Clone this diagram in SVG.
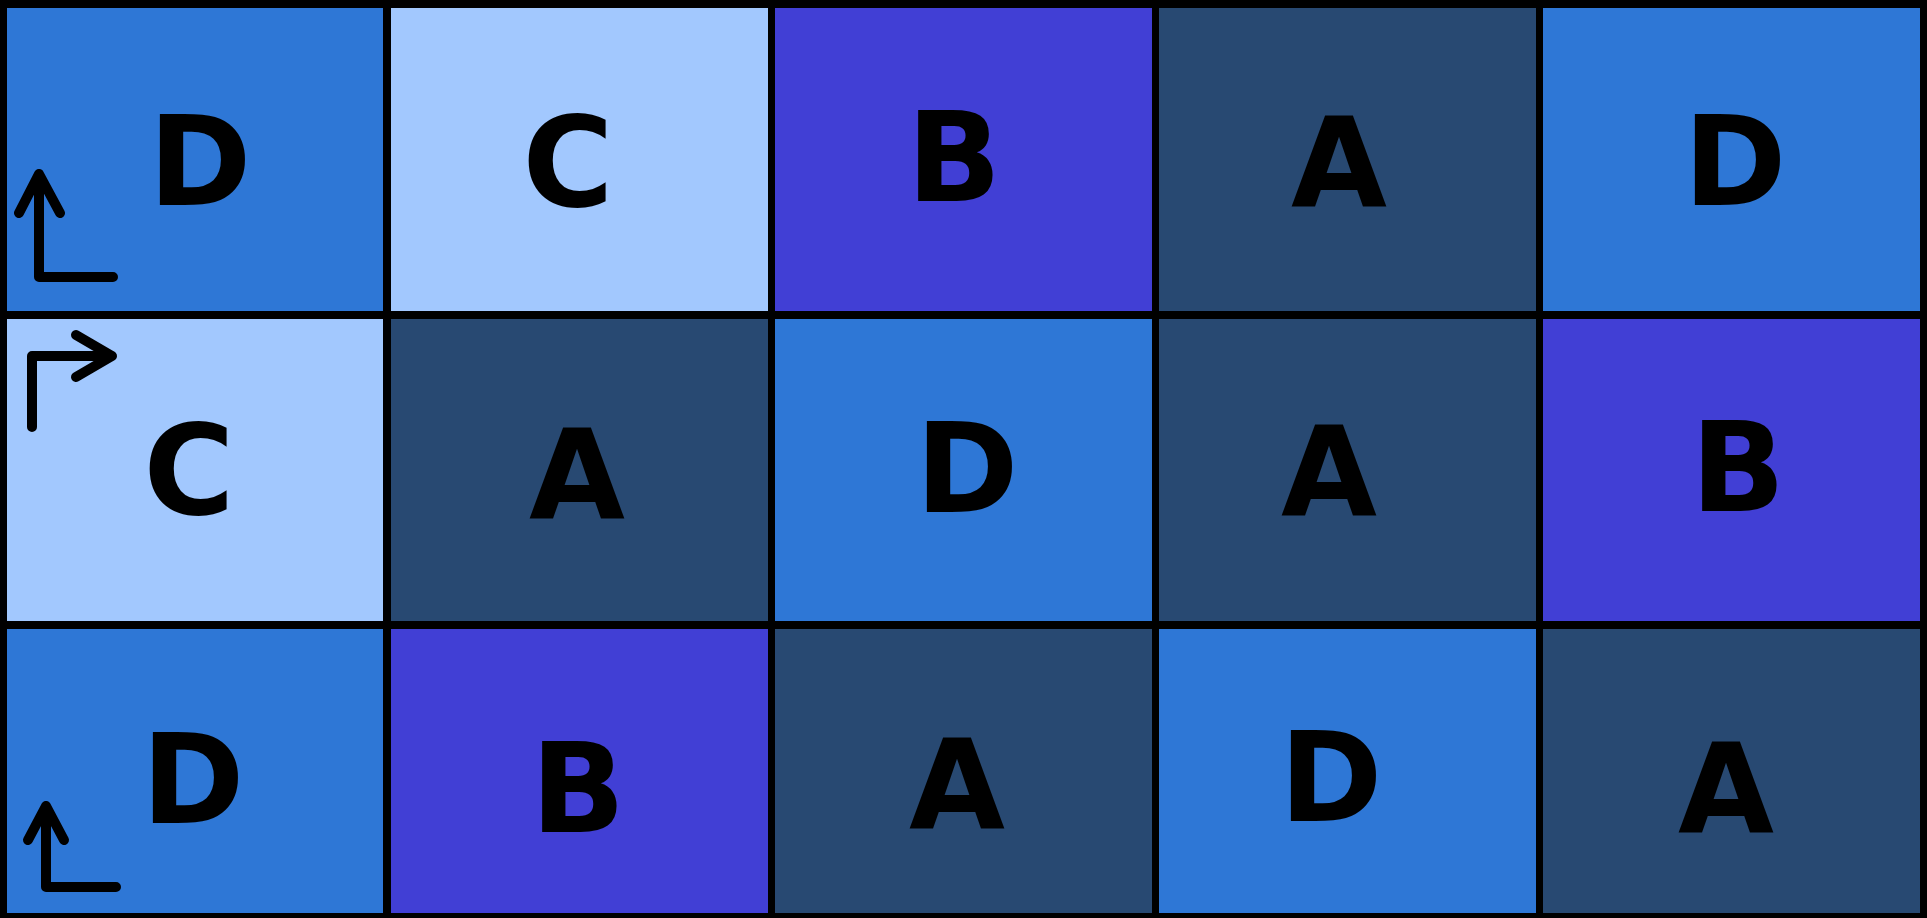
<svg xmlns="http://www.w3.org/2000/svg" width="1927" height="918" viewBox="0 0 1927 918">
<style>
.a{fill:#284972}.b{fill:#413fd5}.c{fill:#a2c8fe}.d{fill:#2e77d6}
text{font-family:"DejaVu Sans","Liberation Sans",sans-serif;font-weight:bold;font-size:124px;fill:#000;text-anchor:middle}
.arr{fill:none;stroke:#000;stroke-width:10;stroke-linecap:round;stroke-linejoin:round}
</style>
<rect x="0" y="0" width="1927" height="918" fill="#000"/>
<g id="r1c1"><rect class="d" x="7" y="8" width="376" height="303"/><text x="200" y="205">D</text></g>
<g id="r1c2"><rect class="c" x="391" y="8" width="377" height="303"/><text x="568" y="206">C</text></g>
<g id="r1c3"><rect class="b" x="775" y="8" width="377" height="303"/><text x="954" y="201">B</text></g>
<g id="r1c4"><rect class="a" x="1159" y="8" width="377" height="303"/><text x="1339" y="207">A</text></g>
<g id="r1c5"><rect class="d" x="1543" y="8" width="377" height="303"/><text x="1735" y="205">D</text></g>
<g id="r2c1"><rect class="c" x="7" y="319" width="376" height="302"/><text x="189" y="514">C</text></g>
<g id="r2c2"><rect class="a" x="391" y="319" width="377" height="302"/><text x="577" y="519">A</text></g>
<g id="r2c3"><rect class="d" x="775" y="319" width="377" height="302"/><text x="967" y="512">D</text></g>
<g id="r2c4"><rect class="a" x="1159" y="319" width="377" height="302"/><text x="1329" y="516">A</text></g>
<g id="r2c5"><rect class="b" x="1543" y="319" width="377" height="302"/><text x="1738" y="511">B</text></g>
<g id="r3c1"><rect class="d" x="7" y="629" width="376" height="284"/><text x="193" y="823">D</text></g>
<g id="r3c2"><rect class="b" x="391" y="629" width="377" height="284"/><text x="578" y="832">B</text></g>
<g id="r3c3"><rect class="a" x="775" y="629" width="377" height="284"/><text x="957" y="829">A</text></g>
<g id="r3c4"><rect class="d" x="1159" y="629" width="377" height="284"/><text x="1331" y="821">D</text></g>
<g id="r3c5"><rect class="a" x="1543" y="629" width="377" height="284"/><text x="1726" y="833">A</text></g>
<g id="connectors">
<path class="arr" d="M113,277 H39 V174 M19,213 L39,174 L60,213"/>
<path class="arr" d="M32,427 V356 H112 M76,335 L112,356 L76,377"/>
<path class="arr" d="M116,887 H46 V806 M28,840 L46,806 L64,840"/>
</g>
</svg>
